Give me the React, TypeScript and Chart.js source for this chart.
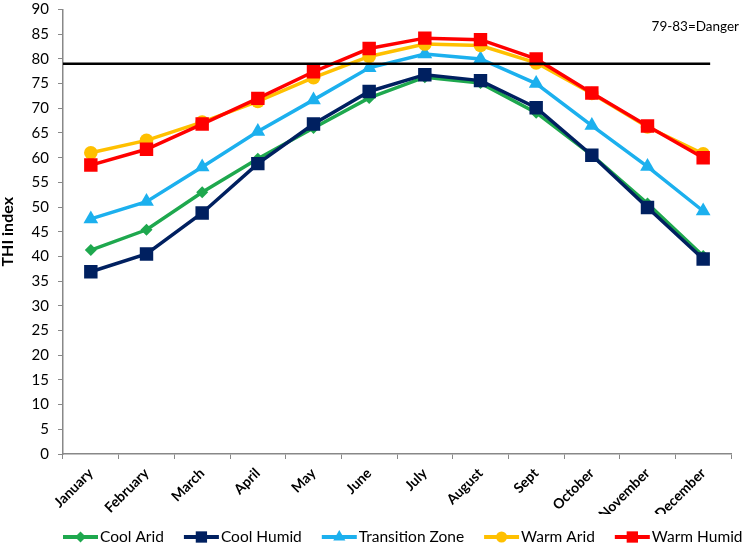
import React, { useEffect, useRef } from 'react';
import { Chart, registerables } from 'chart.js';

Chart.register(...registerables);

const months = ['January', 'February', 'March', 'April', 'May', 'June', 'July', 'August', 'Sept', 'October', 'November', 'December'];
const coolArid = [41.3, 45.4, 53.0, 59.8, 66.0, 72.1, 76.3, 75.1, 69.1, 60.5, 50.7, 40.1];
const coolHumid = [36.9, 40.5, 48.8, 58.8, 66.8, 73.4, 76.8, 75.6, 70.1, 60.5, 49.9, 39.5];
const transitionZone = [47.6, 51.1, 58.1, 65.3, 71.7, 78.2, 81.0, 80.0, 75.0, 66.5, 58.2, 49.2];
const warmArid = [61.0, 63.5, 67.2, 71.4, 76.2, 80.5, 83.0, 82.7, 79.2, 73.0, 66.2, 60.8];
const warmHumid = [58.5, 61.7, 66.8, 72.0, 77.4, 82.1, 84.2, 83.9, 80.0, 73.1, 66.4, 60.0];
const seriesNames = ['Cool Arid', 'Cool Humid', 'Transition Zone', 'Warm Arid', 'Warm Humid'];
const dangerLevel = 79;
const dangerLabel = '79-83=Danger';
const yTitle = 'THI index';

const FONT = 'Lato, "Open Sans", sans-serif';

function drawMarker(ctx: CanvasRenderingContext2D, style: string, x: number, y: number, r: number, color: string) {
  ctx.fillStyle = color;
  ctx.beginPath();
  if (style === 'circle') {
    ctx.arc(x, y, r, 0, Math.PI * 2);
  } else if (style === 'rect') {
    const s = r * Math.SQRT1_2;
    ctx.rect(x - s, y - s, 2 * s, 2 * s);
  } else if (style === 'triangle') {
    ctx.moveTo(x, y - r);
    ctx.lineTo(x + r * 0.866, y + r * 0.5);
    ctx.lineTo(x - r * 0.866, y + r * 0.5);
    ctx.closePath();
  } else {
    ctx.moveTo(x, y - r);
    ctx.lineTo(x + r, y);
    ctx.lineTo(x, y + r);
    ctx.lineTo(x - r, y);
    ctx.closePath();
  }
  ctx.fill();
}

const dangerPlugin = {
  id: 'dangerLine',
  afterDatasetsDraw(chart: any) {
    const { ctx, chartArea, scales } = chart;
    const y = scales.y.getPixelForValue(dangerLevel);
    const xEnd = scales.x.getPixelForValue(months.length - 1) + 7;
    ctx.save();
    ctx.strokeStyle = '#000';
    ctx.lineWidth = 2.5;
    ctx.beginPath();
    ctx.moveTo(chartArea.left, y);
    ctx.lineTo(xEnd, y);
    ctx.stroke();
    ctx.font = `13.5px ${FONT}`;
    ctx.fillStyle = '#000';
    ctx.textAlign = 'right';
    ctx.textBaseline = 'middle';
    ctx.fillText(dangerLabel, chart.width - 6, 27);
    ctx.restore();
  },
};

const legendPlugin = {
  id: 'lineLegend',
  afterDraw(chart: any) {
    const { ctx } = chart;
    ctx.save();
    ctx.font = `15.5px ${FONT}`;
    ctx.textBaseline = 'middle';
    ctx.textAlign = 'left';
    let x = chart.chartArea.left;
    const y = 537;
    chart.data.datasets.forEach((ds: any) => {
      ctx.strokeStyle = ds.borderColor;
      ctx.lineWidth = 4;
      ctx.beginPath();
      ctx.moveTo(x, y);
      ctx.lineTo(x + 35, y);
      ctx.stroke();
      const r = ds.pointStyle === 'rect' ? 8 : ds.pointStyle === 'triangle' ? 7 : 5.5;
      drawMarker(ctx, ds.pointStyle, x + 17.5, y, r, ds.borderColor);
      ctx.fillStyle = '#000';
      ctx.fillText(ds.label, x + 37, y);
      x += 37 + ctx.measureText(ds.label).width + 20;
    });
    ctx.restore();
  },
};

export default function App() {
  const ref = useRef<HTMLCanvasElement>(null);
  useEffect(() => {
    if (!ref.current) return;
    const mk = (label: string, data: number[], color: string, pointStyle: string, radius: number, order: number) => ({
      label,
      data,
      borderColor: color,
      backgroundColor: color,
      pointBackgroundColor: color,
      pointBorderColor: color,
      pointBorderWidth: 0,
      pointStyle,
      pointRadius: radius,
      borderWidth: 3.5,
      tension: 0,
      order,
    });
    const chart = new Chart(ref.current, {
      type: 'line',
      data: {
        labels: months,
        datasets: [
          mk(seriesNames[0], coolArid, '#1EA84E', 'rectRot', 6, 4),
          mk(seriesNames[1], coolHumid, '#002060', 'rect', 9.5, 3),
          mk(seriesNames[2], transitionZone, '#1CB0EE', 'triangle', 8.5, 2),
          mk(seriesNames[3], warmArid, '#FFC000', 'circle', 6.8, 1),
          mk(seriesNames[4], warmHumid, '#FF0000', 'rect', 9.5, 0),
        ] as any,
      },
      options: {
        animation: false,
        responsive: false,
        devicePixelRatio: 1,
        layout: { padding: { top: 7, left: 0, right: 14, bottom: 33 } },
        plugins: {
          legend: { display: false },
          tooltip: { enabled: false },
        },
        scales: {
          x: {
            offset: true,
            grid: { offset: true, drawOnChartArea: false, drawTicks: true, tickLength: 5, color: '#888' },
            border: { color: '#888', width: 1.5 },
            ticks: {
              autoSkip: false,
              maxRotation: 45,
              minRotation: 45,
              color: '#000',
              padding: 6,
              font: { family: FONT, size: 14, weight: 'bold' },
            },
            afterFit(scale: any) {
              scale.height = 60;
              scale.paddingLeft = 0;
              scale.paddingRight = 0;
            },
          },
          y: {
            min: 0,
            max: 90,
            ticks: { stepSize: 5, color: '#000', padding: 9, font: { family: FONT, size: 15 } },
            grid: { drawOnChartArea: false, drawTicks: true, tickLength: 5, color: '#888' },
            border: { color: '#888', width: 1.5 },
            title: {
              display: true,
              text: yTitle,
              color: '#000',
              padding: { top: 0, bottom: 0 },
              font: { family: FONT, size: 16, weight: 'bold', lineHeight: 1 },
            },
            afterFit(scale: any) {
              scale.width = 63;
              scale.paddingTop = 0;
              scale.paddingBottom = 0;
            },
          },
        },
      } as any,
      plugins: [dangerPlugin, legendPlugin],
    });
    return () => chart.destroy();
  }, []);
  return (
    <div style={{ position: 'absolute', left: 0, top: 0, width: 745, height: 547, background: '#fff' }}>
      <canvas ref={ref} width={745} height={547} />
    </div>
  );
}
